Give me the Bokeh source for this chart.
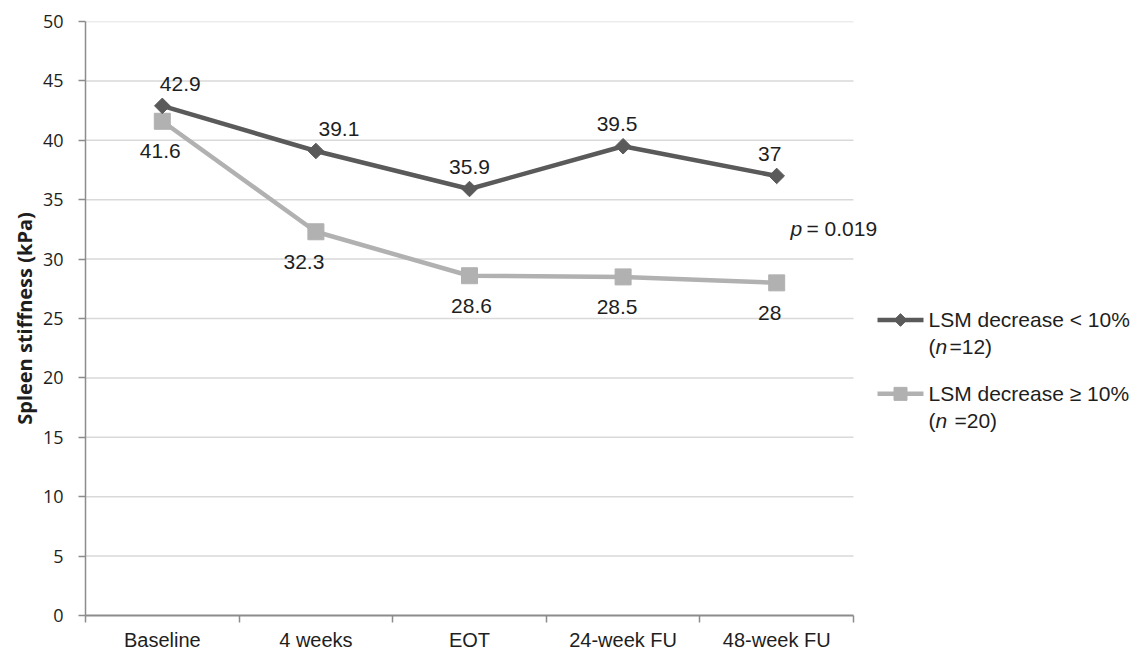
import numpy as np
from bokeh.plotting import figure
from bokeh.models import FixedTicker, Range1d
from bokeh.core.properties import value
from bokeh.embed import file_html
from bokeh.resources import INLINE

# ---------------- data ----------------
categories = ["Baseline", "4 weeks", "EOT", "24-week FU", "48-week FU"]
lsm_lt10 = [42.9, 39.1, 35.9, 39.5, 37]
lsm_ge10 = [41.6, 32.3, 28.6, 28.5, 28]
lsm_lt10_text = ["42.9", "39.1", "35.9", "39.5", "37"]
lsm_ge10_text = ["41.6", "32.3", "28.6", "28.5", "28"]
y_ticks = [0, 5, 10, 15, 20, 25, 30, 35, 40, 45, 50]
p_value_text = "= 0.019"

# ---------------- layout / style ----------------
W, H = 1143, 653
LEFT, TOP, BOTTOM = 85, 21, 37
FRAME_W = W - LEFT
FRAME_H = H - TOP - BOTTOM
CAT_PX = 153.6                      # pixel width of one category
X_END = FRAME_W / CAT_PX
Y_MAX = 50
PX_PER_Y = FRAME_H / Y_MAX

DARK = "#5a5a5a"
LIGHT = "#b1b1b1"
GRID = "#d9d9d9"
AXIS = "#8c8c8c"
TXT = "#1e1e1e"
SANS = "Liberation Sans"

# label nudges (screen px), like manually placed Excel data labels
lt10_dx = [18, 23, 0, -6, -7]
ge10_dx = [-2, -12, 2, -6, -7]


def X(page_x):
    return (page_x - LEFT) / CAT_PX


def Y(page_y):
    return ((TOP + FRAME_H) - page_y) / PX_PER_Y


xs = [i + 0.5 for i in range(len(categories))]
n_cat = len(categories)

p = figure(width=W, height=H, output_backend="svg", toolbar_location=None,
           x_range=Range1d(0, X_END), y_range=Range1d(0, Y_MAX),
           min_border_left=LEFT, min_border_right=0, min_border_top=TOP,
           min_border_bottom=BOTTOM)
p.outline_line_color = None
p.xgrid.visible = False
p.ygrid.visible = False

# gridlines limited to the category area
p.segment(x0=[0] * (len(y_ticks) - 1), x1=[n_cat] * (len(y_ticks) - 1),
          y0=y_ticks[1:], y1=y_ticks[1:], line_color=GRID, line_width=1.5)

# series
p.line(xs, lsm_ge10, line_color=LIGHT, line_width=4.5)
p.scatter(xs, lsm_ge10, marker="square", size=16, fill_color=LIGHT, line_color=LIGHT)
p.line(xs, lsm_lt10, line_color=DARK, line_width=4.5)
p.scatter(xs, lsm_lt10, marker="square", angle=np.pi / 4, size=11,
          fill_color=DARK, line_color=DARK)

# data labels
p.text(xs, lsm_lt10, text=lsm_lt10_text, x_offset=lt10_dx, y_offset=-22,
       text_align="center", text_baseline="middle", text_font=value(SANS),
       text_font_size="21px", text_color=TXT)
p.text(xs, lsm_ge10, text=lsm_ge10_text, x_offset=ge10_dx, y_offset=30,
       text_align="center", text_baseline="middle", text_font=value(SANS),
       text_font_size="21px", text_color=TXT)

# p value
p.text([X(790)], [Y(228)], text=["p"], text_align="left", text_baseline="middle",
       text_font=value(SANS), text_font_style="italic", text_font_size="21px",
       text_color=TXT)
p.text([X(806)], [Y(228)], text=[p_value_text], text_align="left",
       text_baseline="middle", text_font=value(SANS), text_font_size="21px",
       text_color=TXT)

# legend (drawn by hand)
legend_rows = [
    (320, DARK, "diamond", "LSM decrease < 10%", "=12)", 949),
    (394, LIGHT, "square", "LSM decrease \u2265 10%", "=20)", 954),
]
for row_y, col, mk, lab, ntxt, nx in legend_rows:
    p.line([X(877), X(923)], [Y(row_y)] * 2, line_color=col, line_width=4.5)
    if mk == "diamond":
        p.scatter([X(900)], [Y(row_y)], marker="square", angle=np.pi / 4, size=9,
                  fill_color=col, line_color=col)
    else:
        p.scatter([X(900)], [Y(row_y)], marker="square", size=13,
                  fill_color=col, line_color=col)
    p.text([X(928)], [Y(row_y)], text=[lab], text_align="left", text_baseline="middle",
           text_font=value(SANS), text_font_size="21px", text_color=TXT)
    p.text([X(928)], [Y(row_y + 27)], text=["("], text_align="left",
           text_baseline="middle", text_font=value(SANS), text_font_size="21px",
           text_color=TXT)
    p.text([X(935)], [Y(row_y + 27)], text=["n"], text_align="left",
           text_baseline="middle", text_font=value(SANS), text_font_style="italic",
           text_font_size="21px", text_color=TXT)
    p.text([X(nx)], [Y(row_y + 27)], text=[ntxt], text_align="left",
           text_baseline="middle", text_font=value(SANS), text_font_size="21px",
           text_color=TXT)

# x axis
xa = p.xaxis[0]
xa.ticker = FixedTicker(ticks=xs, minor_ticks=list(range(n_cat + 1)))
xa.major_label_overrides = {x: c for x, c in zip(xs, categories)}
xa.bounds = (0, n_cat)
xa.axis_line_color = AXIS
xa.axis_line_width = 2
xa.major_tick_line_color = None
xa.major_tick_out = 0
xa.major_tick_in = 0
xa.minor_tick_line_color = AXIS
xa.minor_tick_line_width = 1.5
xa.minor_tick_out = 7
xa.minor_tick_in = 0
xa.major_label_standoff = 6
xa.major_label_text_font = SANS
xa.major_label_text_font_size = "20px"
xa.major_label_text_color = TXT

# y axis
ya = p.yaxis[0]
ya.ticker = FixedTicker(ticks=y_ticks)
ya.axis_line_color = AXIS
ya.axis_line_width = 1.5
ya.major_tick_line_color = AXIS
ya.major_tick_line_width = 1.5
ya.major_tick_out = 7
ya.major_tick_in = 0
ya.minor_tick_line_color = None
ya.major_label_standoff = 15
ya.major_label_text_font = "Open Sans"
ya.major_label_text_font_size = "18px"
ya.major_label_text_color = TXT
ya.axis_label = "Spleen stiffness (kPa)"
ya.axis_label_text_font = "Open Sans"
ya.axis_label_text_font_style = "bold"
ya.axis_label_text_font_size = "20px"
ya.axis_label_text_color = TXT
ya.axis_label_standoff = 2

open("out.html", "w").write(file_html(p, INLINE))
